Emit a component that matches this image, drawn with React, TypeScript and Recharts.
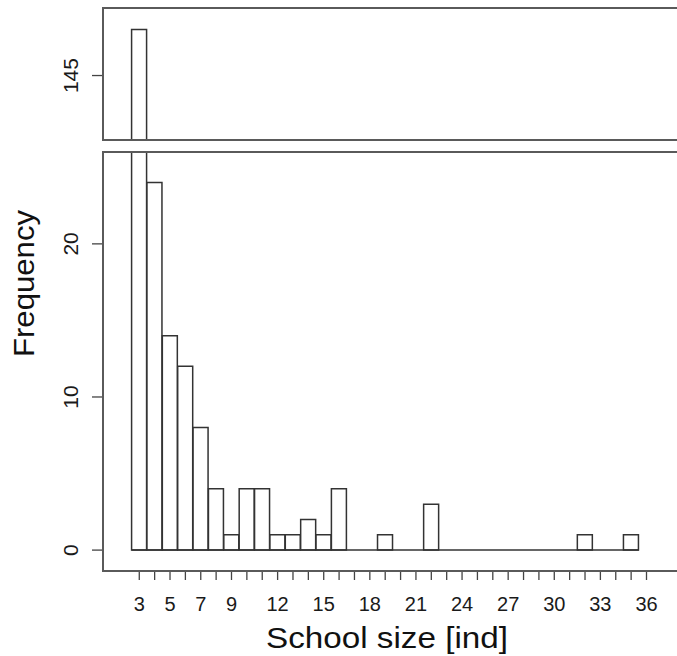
import React from "react";
import { ComposedChart, Bar, XAxis, YAxis, ReferenceLine } from "recharts";

// ---- data ----
const schoolSizes = [3, 4, 5, 6, 7, 8, 9, 10, 11, 12, 13, 14, 15, 16, 17, 18, 19, 20, 21, 22, 23, 24, 25, 26, 27, 28, 29, 30, 31, 32, 33, 34, 35];
const frequencies = [148, 24, 14, 12, 8, 4, 1, 4, 4, 1, 1, 2, 1, 4, 0, 0, 1, 0, 0, 3, 0, 0, 0, 0, 0, 0, 0, 0, 0, 1, 0, 0, 1];
const xTicks = [3, 4, 5, 6, 7, 8, 9, 10, 11, 12, 13, 14, 15, 16, 17, 18, 19, 20, 21, 22, 23, 24, 25, 26, 27, 28, 29, 30, 31, 32, 33, 34, 35, 36];
const xTickLabels = [3, 5, 7, 9, 12, 15, 18, 21, 24, 27, 30, 33, 36];
const lowerYTicks = [0, 10, 20];
const upperYTicks = [145];
const lowerDomain = [-1.3, 26];
const upperDomain = [140.8, 149.4];
const xDomain = [0.64, 38.83];

const FONT = "'Liberation Sans', Arial, Helvetica, sans-serif";
const BAR_STROKE = "#333";
const BOX = "#5a5a5a";

const lowerData = schoolSizes.map((s, i) => ({ size: s, freq: frequencies[i] }));
const upperData = schoolSizes.map((s, i) => ({
  size: s,
  freq: frequencies[i] > upperDomain[0] ? frequencies[i] : null,
}));
const labelSet = new Set(xTickLabels);

const XTick = (props: any) => {
  const { x, y, payload } = props;
  const v = payload.value;
  return (
    <g>
      <line x1={x} x2={x} y1={y + 1} y2={y + 10} stroke="#444" strokeWidth={1.3} />
      {labelSet.has(v) && (
        <text x={x} y={y + 41} textAnchor="middle" fontSize={20} fill="#1a1a1a" fontFamily={FONT}>
          {v}
        </text>
      )}
    </g>
  );
};

const YTick = (props: any) => {
  const { x, y, payload } = props;
  return (
    <g>
      <line x1={x - 11} x2={x} y1={y} y2={y} stroke="#444" strokeWidth={1.3} />
      <text
        x={x - 25}
        y={y}
        transform={`rotate(-90 ${x - 25} ${y})`}
        textAnchor="middle"
        fontSize={21}
        fill="#1a1a1a"
        fontFamily={FONT}
      >
        {payload.value}
      </text>
    </g>
  );
};

export default function App() {
  const W = 700;
  return (
    <div
      style={{
        position: "absolute",
        left: 0,
        top: 0,
        width: 677,
        height: 656,
        overflow: "hidden",
        background: "#fff",
      }}
    >
      {/* upper panel */}
      <div style={{ position: "absolute", left: 0, top: 0 }}>
        <ComposedChart
          width={W}
          height={150}
          data={upperData}
          margin={{ top: 8, right: 10, bottom: 10, left: 0 }}
          barCategoryGap={0}
          barGap={0}
        >
          <XAxis
            dataKey="size"
            type="number"
            domain={xDomain}
            allowDataOverflow
            tickCount={40}
            hide
          />
          <YAxis
            type="number"
            domain={upperDomain}
            allowDataOverflow
            ticks={upperYTicks}
            width={103}
            axisLine={false}
            tickLine={false}
            tickSize={0}
            tickMargin={0}
            tick={<YTick />}
          />
          <Bar
            dataKey="freq"
            fill="#fff"
            stroke={BAR_STROKE}
            strokeWidth={1.5}
            isAnimationActive={false}
          />
        </ComposedChart>
      </div>

      {/* lower panel */}
      <div style={{ position: "absolute", left: 0, top: 0 }}>
        <ComposedChart
          width={W}
          height={656}
          data={lowerData}
          margin={{ top: 152, right: 10, bottom: 56, left: 0 }}
          barCategoryGap={0}
          barGap={0}
        >
          <XAxis
            dataKey="size"
            type="number"
            domain={xDomain}
            allowDataOverflow
            tickCount={40}
            ticks={xTicks}
            interval={0}
            height={30}
            axisLine={false}
            tickLine={false}
            tickSize={0}
            tickMargin={0}
            tick={<XTick />}
          />
          <YAxis
            type="number"
            domain={lowerDomain}
            allowDataOverflow
            ticks={lowerYTicks}
            width={103}
            axisLine={false}
            tickLine={false}
            tickSize={0}
            tickMargin={0}
            tick={<YTick />}
          />
          <ReferenceLine
            segment={[
              { x: schoolSizes[0] - 0.5, y: 0 },
              { x: schoolSizes[schoolSizes.length - 1] + 0.5, y: 0 },
            ]}
            stroke={BAR_STROKE}
            strokeWidth={1.5}
          />
          <Bar
            dataKey="freq"
            fill="#fff"
            stroke={BAR_STROKE}
            strokeWidth={1.5}
            isAnimationActive={false}
          />
        </ComposedChart>
      </div>

      {/* panel boxes */}
      <div
        style={{
          position: "absolute",
          left: 102,
          top: 7,
          width: 700,
          height: 134,
          border: `2px solid ${BOX}`,
          boxSizing: "border-box",
          pointerEvents: "none",
        }}
      />
      <div
        style={{
          position: "absolute",
          left: 102,
          top: 151,
          width: 700,
          height: 421,
          border: `2px solid ${BOX}`,
          boxSizing: "border-box",
          pointerEvents: "none",
        }}
      />

      {/* axis titles */}
      <svg width={677} height={656} style={{ position: "absolute", left: 0, top: 0, pointerEvents: "none" }}>
        <text
          x={387}
          y={648}
          textAnchor="middle"
          fontSize={29}
          fill="#111"
          fontFamily={FONT}
          textLength={242}
          lengthAdjust="spacingAndGlyphs"
        >
          School size [ind]
        </text>
        <text
          x={34}
          y={283.5}
          transform="rotate(-90 34 283.5)"
          textAnchor="middle"
          fontSize={29}
          fill="#111"
          fontFamily={FONT}
          textLength={147}
          lengthAdjust="spacingAndGlyphs"
        >
          Frequency
        </text>
      </svg>
    </div>
  );
}
